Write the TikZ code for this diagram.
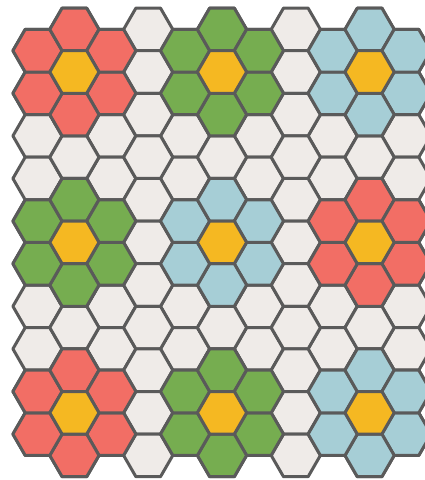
\documentclass[tikz,border=0pt]{standalone}
\usepackage{tikz}
\usetikzlibrary{calc}

\definecolor{hexline}{HTML}{5A5A5A}
\definecolor{cellgrey}{HTML}{EFEBE8}
\definecolor{flred}{HTML}{F26E65}
\definecolor{flgreen}{HTML}{76AD50}
\definecolor{flblue}{HTML}{A6CED6}
\definecolor{flcore}{HTML}{F5B822}

\tikzset{
  hexcell/.style={draw=hexline, line width=3pt, line join=round},
  pics/hextile/.style={code={
    \draw[hexcell, fill=#1] (0:24.6) -- (60:24.6) -- (120:24.6) -- (180:24.6)
      -- (240:24.6) -- (300:24.6) -- cycle;
  }}
}

\begin{document}
\begin{tikzpicture}[x=1pt, y=-1pt]
\useasboundingbox (0,0) rectangle (425,480);

% Griglia di base: colonne pari (10 celle) e dispari (11 celle)
\foreach \c in {0,2,...,10}{
  \foreach \r in {0,...,9}{
    \pic at ({37.5+36.9*\c},{50.7+42.6*\r}) {hextile=cellgrey};
  }
}
\foreach \c in {1,3,...,9}{
  \foreach \r in {0,...,10}{
    \pic at ({37.5+36.9*\c},{29.4+42.6*\r}) {hextile=cellgrey};
  }
}

% Fiori: centro giallo con sei petali
\foreach \c/\r/\col in {1/1/flred, 5/1/flgreen, 9/1/flblue,
                        1/5/flgreen, 5/5/flblue, 9/5/flred,
                        1/9/flred, 5/9/flgreen, 9/9/flblue}{
  \coordinate (fc) at ({37.5+36.9*\c},{29.4+42.6*\r});
  \foreach \a in {30,90,...,330}{
    \pic at ($(fc)+(\a:42.6)$) {hextile=\col};
  }
  \pic at (fc) {hextile=flcore};
}

\end{tikzpicture}
\end{document}
